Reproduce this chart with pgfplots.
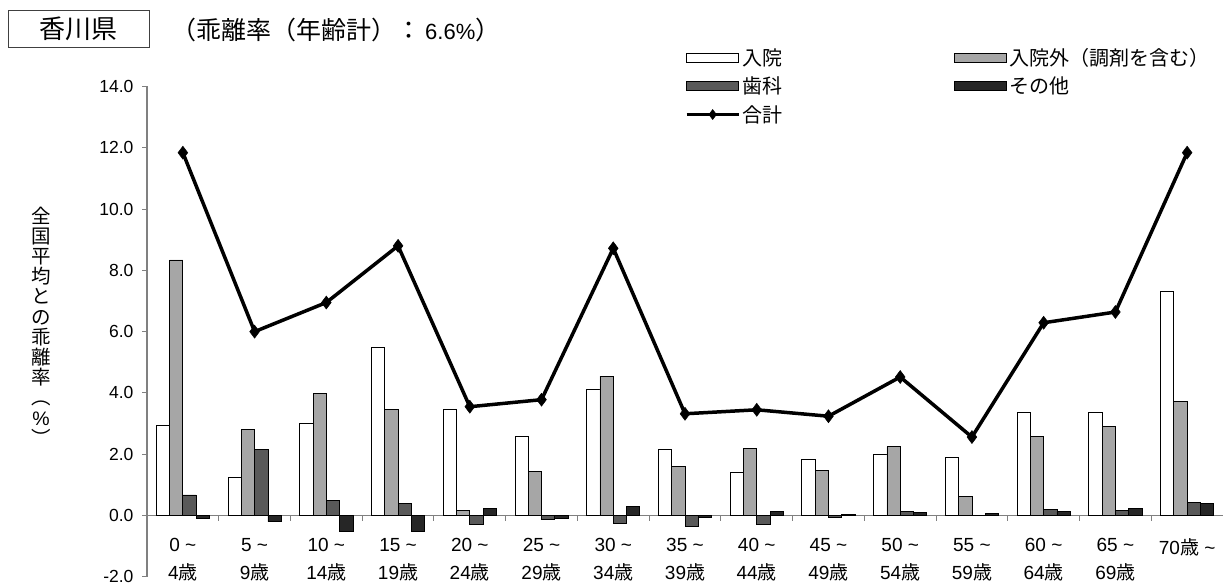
\documentclass[border=0pt]{standalone}
\usepackage{fontspec}
\setmainfont{Liberation Sans}
\newfontfamily\jp{Noto Sans CJK JP}
\usepackage{pgfplots}
\usepackage{pgfplotstable}
\pgfplotsset{compat=1.18}

\pgfplotstableread{
x a b c d t
0 2.94 8.34 0.67 -0.10 11.84
1 1.24 2.82 2.15 -0.20 6.00
2 3.01 3.98 0.48 -0.51 6.95
3 5.48 3.46 0.40 -0.51 8.80
4 3.47 0.16 -0.30 0.24 3.55
5 2.59 1.44 -0.13 -0.10 3.78
6 4.12 4.55 -0.25 0.31 8.72
7 2.17 1.59 -0.37 -0.05 3.32
8 1.42 2.20 -0.28 0.13 3.45
9 1.84 1.47 -0.06 0.03 3.24
10 2.00 2.24 0.14 0.11 4.52
11 1.90 0.62 0.00 0.07 2.56
12 3.37 2.59 0.20 0.13 6.29
13 3.35 2.92 0.16 0.22 6.64
14 7.31 3.72 0.42 0.40 11.84
}\data

\definecolor{cB}{HTML}{A6A6A6}
\definecolor{cC}{HTML}{595959}
\definecolor{cD}{HTML}{262626}

\begin{document}
\begin{tikzpicture}
\useasboundingbox (0pt,0pt) rectangle (1223pt,585pt);
% title
\draw[black!75, line width=0.8pt] (8pt,575pt) rectangle (149pt,538pt);
\node[font=\jp\fontsize{26}{28}\selectfont] at (78.5pt,556.5pt) {香川県};
\node[anchor=west, font=\jp\fontsize{25}{27}\selectfont, inner sep=0pt] at (171pt,555pt)
 {（乖離率（年齢計）：\hspace{4pt}{\normalfont\fontsize{22}{24}\selectfont 6.6\%}）};
% y label (vertical, stacked)
\node[align=center, font=\jp\fontsize{19.5}{20.2}\selectfont, inner sep=0pt] at (41pt,259pt)
 {全\\国\\平\\均\\と\\の\\乖\\離\\率\\︵\\{\normalfont\%}\\︶};
\begin{axis}[
  at={(147pt,8.2pt)}, anchor=south west,
  scale only axis, width=1076pt, height=490.3pt,
  xmin=-0.5, xmax=14.5, ymin=-2, ymax=14,
  axis y line=left, axis x line=middle,
  axis line style={draw=gray, line width=1.2pt, -},
  tick align=outside, major tick length=5pt,
  tick style={gray, line width=1pt},
  ytick={-2,0,...,14},
  yticklabel style={font=\fontsize{17.5}{19}\selectfont, xshift=-5pt,
    /pgf/number format/.cd, fixed, fixed zerofill, precision=1, assume math mode=true},
  xtick={0.5,1.5,...,14.5},
  xticklabels={{0 \textasciitilde\\4{\jp 歳}},{5 \textasciitilde\\9{\jp 歳}},{10 \textasciitilde\\14{\jp 歳}},
    {15 \textasciitilde\\19{\jp 歳}},{20 \textasciitilde\\24{\jp 歳}},{25 \textasciitilde\\29{\jp 歳}},
    {30 \textasciitilde\\34{\jp 歳}},{35 \textasciitilde\\39{\jp 歳}},{40 \textasciitilde\\44{\jp 歳}},
    {45 \textasciitilde\\49{\jp 歳}},{50 \textasciitilde\\54{\jp 歳}},{55 \textasciitilde\\59{\jp 歳}},
    {60 \textasciitilde\\64{\jp 歳}},{65 \textasciitilde\\69{\jp 歳}},{70{\jp 歳} \textasciitilde}},
  xticklabel style={font=\fontsize{19}{28}\selectfont, align=center, xshift=-35.87pt, yshift=-14pt, anchor=north},
  legend columns=2,
  legend style={draw=none, fill=none, at={(axis description cs:0.5,1.082)}, anchor=north west,
    font=\jp\fontsize{20}{22}\selectfont, row sep=6pt, inner sep=0pt,
    /tikz/column 2/.style={column sep=170pt}},
  legend cell align=left,
]
\addplot[ybar, bar width=13.3pt, bar shift=-19.95pt, fill=white, draw=black, line width=0.8pt,
  legend image code/.code={\draw[fill=white,draw=black,line width=0.8pt] (0pt,-4.5pt) rectangle (52pt,4.5pt);}]
  table[x=x,y=a]{\data};
\addlegendentry{入院}
\addplot[ybar, bar width=13.3pt, bar shift=-6.65pt, fill=cB, draw=black, line width=0.8pt,
  legend image code/.code={\draw[fill=cB,draw=black,line width=0.8pt] (0pt,-4.5pt) rectangle (52pt,4.5pt);}]
  table[x=x,y=b]{\data};
\addlegendentry{入院外（調剤を含む）}
\addplot[ybar, bar width=13.3pt, bar shift=6.65pt, fill=cC, draw=black, line width=0.8pt,
  legend image code/.code={\draw[fill=cC,draw=black,line width=0.8pt] (0pt,-4.5pt) rectangle (52pt,4.5pt);}]
  table[x=x,y=c]{\data};
\addlegendentry{歯科}
\addplot[ybar, bar width=13.3pt, bar shift=19.95pt, fill=cD, draw=black, line width=0.8pt,
  legend image code/.code={\draw[fill=cD,draw=black,line width=0.8pt] (0pt,-4.5pt) rectangle (52pt,4.5pt);}]
  table[x=x,y=d]{\data};
\addlegendentry{その他}
\addplot[black, line width=3.5pt, mark=diamond*, mark size=6.5pt, mark options={solid, line width=0.5pt},
  legend image code/.code={\draw[black, line width=3pt] (0pt,0pt)--(52pt,0pt);
     \draw[mark=diamond*, mark size=5pt, mark options={solid, line width=0.5pt, fill=black}] plot coordinates {(26pt,0pt)};}]
  table[x=x,y=t]{\data};
\addlegendentry{合計}
\end{axis}
\end{tikzpicture}
\end{document}
